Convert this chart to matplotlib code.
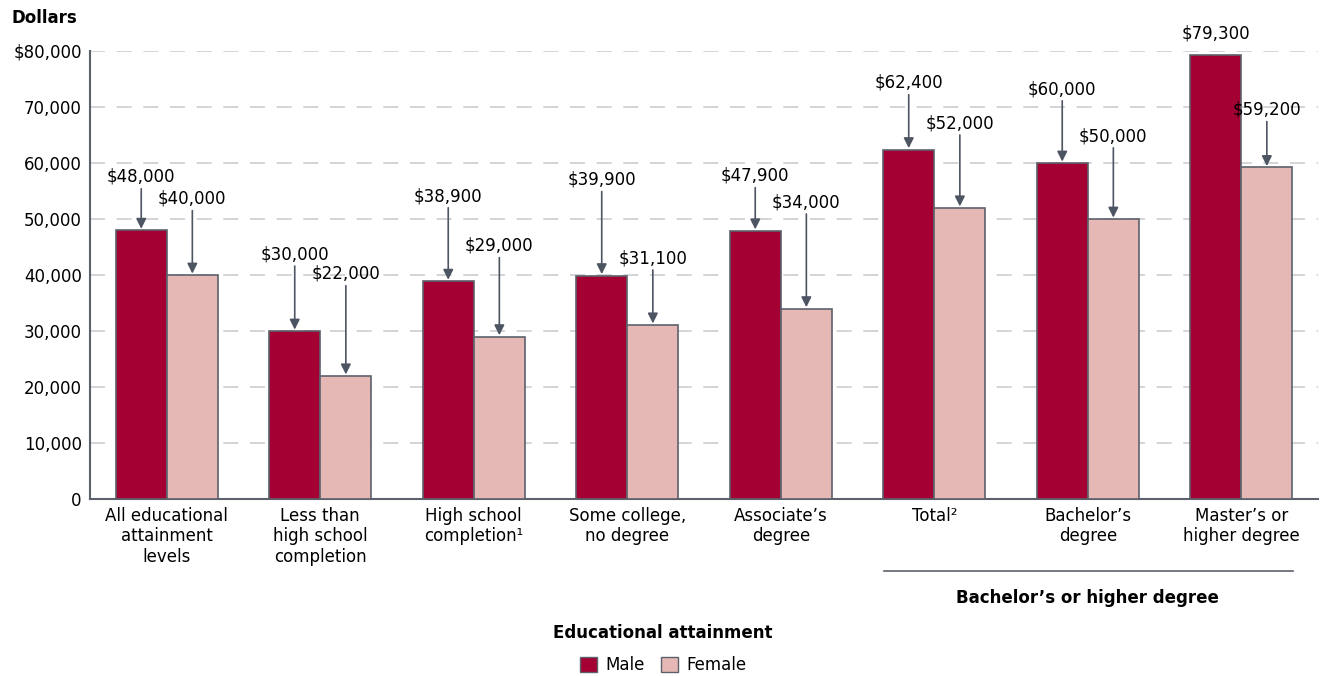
import matplotlib
matplotlib.use("Agg")
import matplotlib.pyplot as plt
import matplotlib.patches as mpatches
import matplotlib.transforms as mtransforms
import numpy as np

plt.rcParams['font.family'] = ['DejaVu Sans']

categories = ["All educational\nattainment\nlevels", "Less than\nhigh school\ncompletion",
              "High school\ncompletion\u00b9", "Some college,\nno degree", "Associate\u2019s\ndegree",
              "Total\u00b2", "Bachelor\u2019s\ndegree", "Master\u2019s or\nhigher degree"]
male = [48000, 30000, 38900, 39900, 47900, 62400, 60000, 79300]
female = [40000, 22000, 29000, 31100, 34000, 52000, 50000, 59200]
# where the value labels sit (y of text)
male_label_y = [57500, 43700, 54100, 57000, 57700, 74300, 73200, 83200]
female_label_y = [53600, 40200, 45200, 43000, 53000, 67100, 64800, 69500]
yticks = [0, 10000, 20000, 30000, 40000, 50000, 60000, 70000, 80000]

male_color = "#a50034"
female_color = "#e6b8b5"
edge = "#5c616b"
arrow_col = "#4d5563"

fig = plt.figure(figsize=(13.26, 6.76), dpi=100)
ax = fig.add_axes([0.0679, 0.2618, 0.9261, 0.6628])

x = np.arange(len(categories))
w = 0.333
ax.bar(x - w/2, male, w, color=male_color, edgecolor=edge, linewidth=1.2, zorder=3)
ax.bar(x + w/2, female, w, color=female_color, edgecolor=edge, linewidth=1.2, zorder=3)

ax.set_xlim(-0.5, 7.5)
ax.set_ylim(0, 80000)
ax.set_yticks(yticks)
ax.set_yticklabels(["$80,000" if v == 80000 else f"{v:,}" for v in yticks], fontsize=12)
ax.tick_params(axis='y', length=0, pad=6)
ax.set_xticks(x)
ax.set_xticklabels(categories, fontsize=12, linespacing=1.15)
ax.tick_params(axis='x', length=0, pad=6)
ax.yaxis.grid(True, color="#cdcdd2", linestyle=(0, (9, 7)), linewidth=1.2, zorder=0)
for s in ["top", "right"]:
    ax.spines[s].set_visible(False)
for s in ["left", "bottom"]:
    ax.spines[s].set_color(edge)
    ax.spines[s].set_linewidth(1.5)

def label(xc, val, ly, arrow=True):
    txt = f"${val:,}"
    if arrow:
        ax.annotate("", xy=(xc, val), xytext=(xc, ly - 2100),
                    arrowprops=dict(arrowstyle="-|>,head_length=0.6,head_width=0.3",
                                    color=arrow_col, lw=1.2, shrinkA=0, shrinkB=1),
                    annotation_clip=False, zorder=4)
    ax.text(xc, ly, txt, ha="center", va="center", fontsize=12, zorder=5, clip_on=False)

for i in range(len(categories)):
    label(x[i] - w/2, male[i], male_label_y[i], arrow=(i != 7))
    label(x[i] + w/2, female[i], female_label_y[i])

fig.text(0.009, 0.973, "Dollars", fontsize=12, fontweight="bold", ha="left", va="center")

trans = mtransforms.blended_transform_factory(ax.transData, ax.transAxes)
ax.plot([4.67, 7.34], [-0.161, -0.161], color=edge, lw=1.2, transform=trans, clip_on=False)
ax.text(6.0, -0.221, "Bachelor\u2019s or higher degree", transform=trans, ha="center", va="center",
        fontsize=12, fontweight="bold")

fig.text(0.5, 0.064, "Educational attainment", ha="center", va="center", fontsize=12, fontweight="bold")

male_patch = mpatches.Patch(facecolor=male_color, edgecolor=edge, label="Male")
female_patch = mpatches.Patch(facecolor=female_color, edgecolor=edge, label="Female")
fig.legend(handles=[male_patch, female_patch], loc="center", bbox_to_anchor=(0.5, 0.016),
           ncol=2, frameon=False, fontsize=12, handlelength=1.0, handleheight=1.0,
           columnspacing=1.0, handletextpad=0.5)

fig.savefig("out.png", dpi=100)
